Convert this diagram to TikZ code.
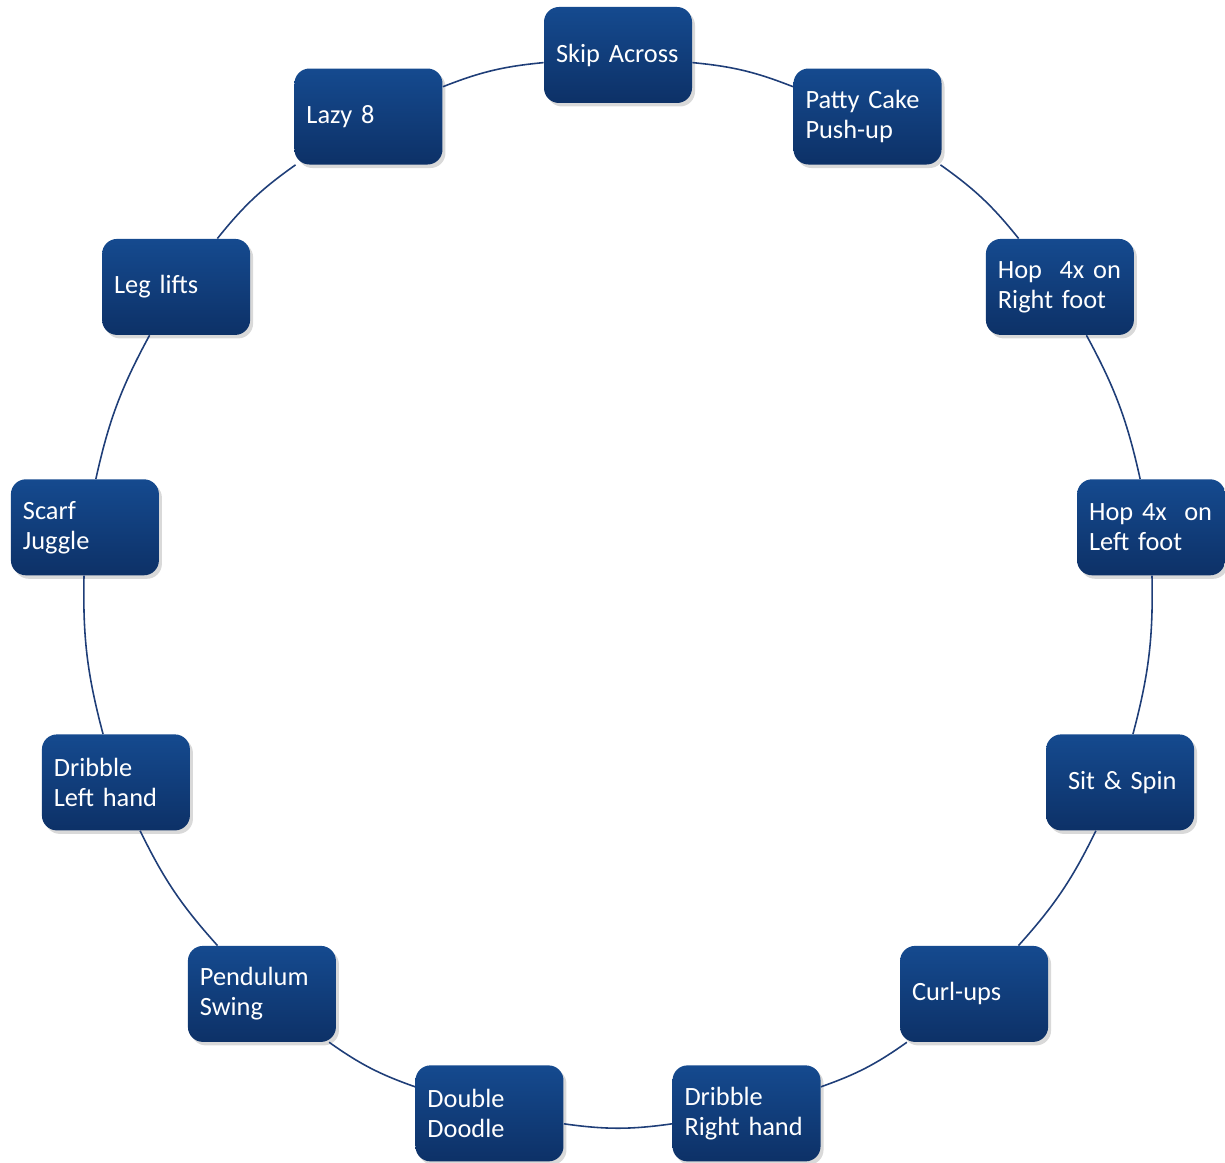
\documentclass[tikz,border=0pt]{standalone}
\usepackage{fontspec}
\setmainfont{Carlito}
\usetikzlibrary{shadows}

\definecolor{boxtop}{HTML}{154A8F}
\definecolor{boxbottom}{HTML}{0D3167}
\definecolor{ringline}{HTML}{1F3E78}

\tikzset{
    station/.style={rectangle, rounded corners=0.3cm, top color=boxtop, bottom color=boxbottom,
        text=white, text width=2.48cm, inner xsep=0.24cm, inner ysep=0pt, minimum height=1.92cm,
        align=left, font=\fontsize{15pt}{17pt}\selectfont,
        drop shadow={shadow xshift=0.06cm, shadow yshift=-0.07cm, opacity=0.3}},
    ring/.style={draw=ringline, line width=0.9pt}
}

\begin{document}
\begin{tikzpicture}
    \useasboundingbox (0,0) rectangle (24.5,23.26);

    % Centre of the circuit
    \coordinate (C) at (12.36,11.42);

    % Stations
    \node[station] (skip)    at ([shift={(90:10.74)}]C)      {Skip Across};
    \node[station] (patty)   at ([shift={(62.31:10.74)}]C)   {Patty Cake\\Push-up};
    \node[station] (hopR)    at ([shift={(34.62:10.74)}]C)   {Hop\ \ 4x on\\Right foot};
    \node[station] (hopL)    at ([shift={(6.92:10.74)}]C)    {Hop 4x\ \ on\\Left foot};
    \node[station] (sit)     at ([shift={(-20.77:10.74)}]C)  {\hspace{0.2cm}Sit \& Spin};
    \node[station] (curl)    at ([shift={(-48.46:10.74)}]C)  {Curl-ups};
    \node[station] (dribR)   at ([shift={(-76.15:10.74)}]C)  {Dribble\\Right hand};
    \node[station] (doodle)  at ([shift={(-103.85:10.74)}]C) {Double\\Doodle};
    \node[station] (pend)    at ([shift={(-131.54:10.74)}]C) {Pendulum\\Swing};
    \node[station] (dribL)   at ([shift={(-159.23:10.74)}]C) {Dribble\\Left hand};
    \node[station] (scarf)   at ([shift={(173.08:10.74)}]C)  {Scarf\\Juggle};
    \node[station] (leg)     at ([shift={(145.38:10.74)}]C)  {Leg lifts};
    \node[station] (lazy)    at ([shift={(117.69:10.74)}]C)  {Lazy 8};

    % Ring connectors
    \draw[ring] (skip) to[bend left=8] (patty);
    \draw[ring] (patty) to[bend left=8] (hopR);
    \draw[ring] (hopR) to[bend left=8] (hopL);
    \draw[ring] (hopL) to[bend left=8] (sit);
    \draw[ring] (sit) to[bend left=8] (curl);
    \draw[ring] (curl) to[bend left=8] (dribR);
    \draw[ring] (dribR) to[bend left=8] (doodle);
    \draw[ring] (doodle) to[bend left=8] (pend);
    \draw[ring] (pend) to[bend left=8] (dribL);
    \draw[ring] (dribL) to[bend left=8] (scarf);
    \draw[ring] (scarf) to[bend left=8] (leg);
    \draw[ring] (leg) to[bend left=8] (lazy);
    \draw[ring] (lazy) to[bend left=8] (skip);
\end{tikzpicture}
\end{document}
